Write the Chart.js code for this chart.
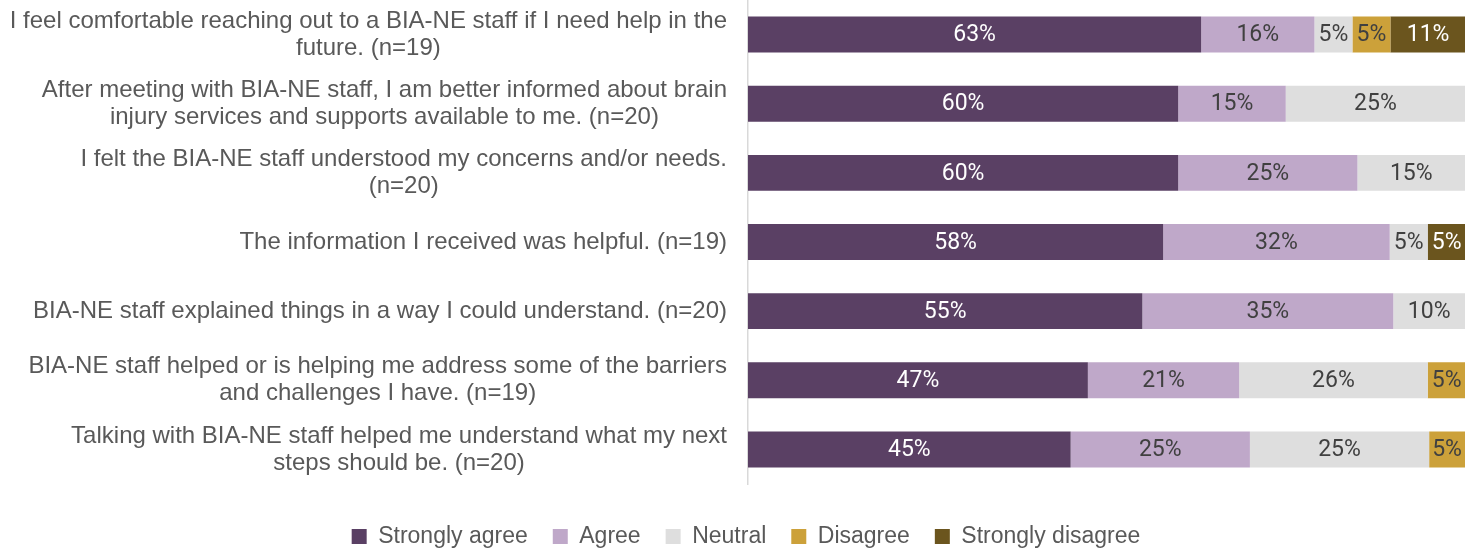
<!DOCTYPE html>
<html><head><meta charset="utf-8">
<script src="https://cdn.jsdelivr.net/npm/chart.js@4/dist/chart.umd.min.js"></script>
<style>html,body{margin:0;padding:0;background:#fff;overflow:hidden}#wrap{width:1471px;height:550px;position:relative}</style>
</head><body><div id="wrap"><canvas id="c"></canvas></div>
<script>
const categories = [
  ["I feel comfortable reaching out to a BIA-NE staff if I need help in the", "future. (n=19)"],
  ["After meeting with BIA-NE staff, I am better informed about brain", "injury services and supports available to me. (n=20)"],
  ["I felt the BIA-NE staff understood my concerns and/or needs.", "(n=20)"],
  ["The information I received was helpful. (n=19)"],
  ["BIA-NE staff explained things in a way I could understand. (n=20)"],
  ["BIA-NE staff helped or is helping me address some of the barriers", "and challenges I have. (n=19)"],
  ["Talking with BIA-NE staff helped me understand what my next", "steps should be. (n=20)"]
];
const seriesNames = ["Strongly agree", "Agree", "Neutral", "Disagree", "Strongly disagree"];
const stronglyAgree    = [63.2, 60, 60, 57.9, 55, 47.4, 45];
const agree            = [15.8, 15, 25, 31.6, 35, 21.1, 25];
const neutral          = [5.3, 25, 15, 5.3, 10, 26.3, 25];
const disagree         = [5.3, 0, 0, 0, 0, 5.3, 5];
const stronglyDisagree = [10.5, 0, 0, 5.3, 0, 0, 0];

const seriesValues = [stronglyAgree, agree, neutral, disagree, stronglyDisagree];
const seriesColors = ["#5A4064", "#BFA8C9", "#DEDEDE", "#CCA13A", "#6B551E"];
const labelColors  = ["#FFFFFF", "#404040", "#404040", "#404040", "#FFFFFF"];

const valueLabels = {
  id: 'valueLabels',
  afterDatasetsDraw(chart) {
    const ctx = chart.ctx;
    ctx.save();
    ctx.font = '400 23px Roboto';
    ctx.textAlign = 'center';
    ctx.textBaseline = 'middle';
    chart.data.datasets.forEach((ds, di) => {
      const meta = chart.getDatasetMeta(di);
      meta.data.forEach((bar, i) => {
        const v = ds.data[i];
        if (!v) return;
        ctx.fillStyle = ds.valueLabelColor;
        ctx.fillText(Math.round(v) + '%', (bar.x + bar.base) / 2, bar.y + 1);
      });
    });
    ctx.restore();
  }
};

const categoryLabels = {
  id: 'categoryLabels',
  afterDraw(chart) {
    const ctx = chart.ctx;
    const ys = chart.scales.y;
    ctx.save();
    ctx.font = '24px "Liberation Sans"';
    ctx.fillStyle = '#595959';
    ctx.textAlign = 'center';
    ctx.textBaseline = 'middle';
    const lh = 27;
    categories.forEach((lines, i) => {
      const y = ys.getPixelForValue(i);
      const maxW = Math.max(...lines.map(l => ctx.measureText(l).width));
      const cx = ys.right - 21 - maxW / 2;
      const y0 = y - (lines.length - 1) * lh / 2;
      lines.forEach((l, k) => ctx.fillText(l, cx, y0 + k * lh));
    });
    ctx.restore();
  }
};

new Chart(document.getElementById('c'), {
  type: 'bar',
  data: {
    labels: categories.map(c => c.join(' ')),
    datasets: seriesNames.map((n, i) => ({
      label: n,
      data: seriesValues[i],
      backgroundColor: seriesColors[i],
      borderWidth: 0,
      valueLabelColor: labelColors[i],
      barPercentage: 0.52,
      categoryPercentage: 1.0
    }))
  },
  options: {
    indexAxis: 'y',
    responsive: true,
    maintainAspectRatio: false,
    animation: false,
    layout: { padding: { left: 27, right: 6, top: -1, bottom: -8 } },
    scales: {
      x: {
        stacked: true, min: 0, max: 100,
        ticks: { display: false },
        grid: { display: false },
        border: { display: false },
        afterFit(s) { s.height = 16; }
      },
      y: {
        stacked: true,
        ticks: { display: false },
        grid: { display: false },
        border: { display: true, color: '#D9D9D9', width: 1.5 },
        afterFit(s) { s.width = 721; }
      }
    },
    plugins: {
      legend: {
        position: 'bottom',
        labels: {
          font: { family: '"Liberation Sans"', size: 23 },
          color: '#595959',
          boxWidth: 15,
          boxHeight: 15,
          padding: 25
        }
      },
      tooltip: { enabled: false }
    }
  },
  plugins: [valueLabels, categoryLabels]
});
</script>
</body></html>
